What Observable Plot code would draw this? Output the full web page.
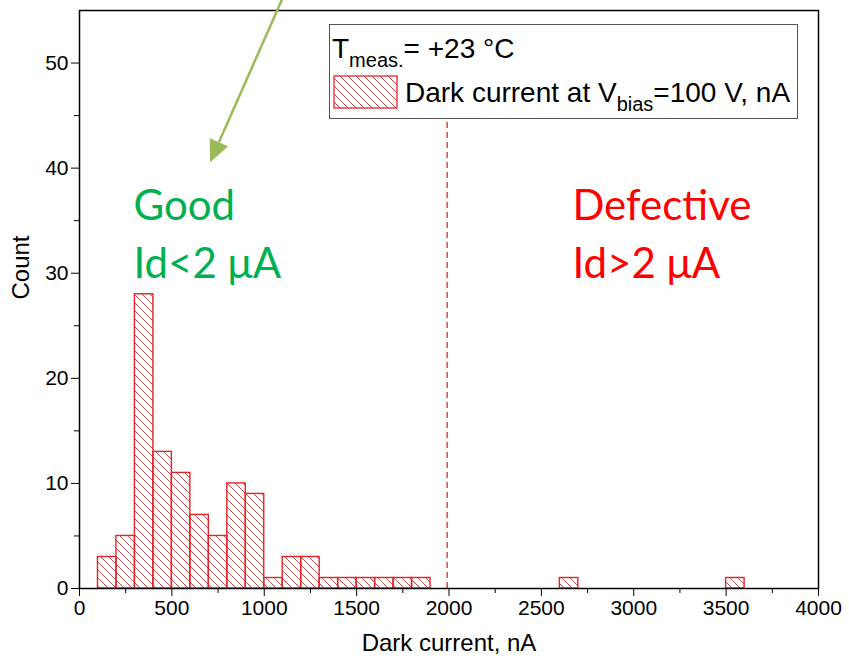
<!DOCTYPE html>
<html>
<head>
<meta charset="utf-8">
<script src="https://cdn.jsdelivr.net/npm/d3@7"></script>
<script src="https://cdn.jsdelivr.net/npm/@observablehq/plot@0.6"></script>
<style>
  html, body { margin: 0; padding: 0; background: #fff; }
  #chart { width: 849px; height: 667px; }
</style>
</head>
<body>
<div id="chart"></div>
<script>
// ---- data ----
const binStarts = [100, 200, 300, 400, 500, 600, 700, 800, 900, 1000, 1100, 1200, 1300, 1400, 1500, 1600, 1700, 1800, 2600, 3500];
const counts    = [3,   5,   28,  13,  11,  7,   5,   10,  9,   1,    3,    3,    1,    1,    1,    1,    1,    1,    1,    1];
const binWidth = 100;
const xTicks = [0, 500, 1000, 1500, 2000, 2500, 3000, 3500, 4000];
const xMinorTicks = [250, 750, 1250, 1750, 2250, 2750, 3250, 3750];
const yTicks = [0, 10, 20, 30, 40, 50];
const yMinorTicks = [5, 15, 25, 35, 45];
const threshold = 1990;
const annotations = [
  {label: "Good", x: 292, y: 36.3, color: "#00B050"},
  {label: "Id<2 μA", x: 292, y: 30.8, color: "#00B050"},
  {label: "Defective", x: 2668, y: 36.3, color: "#FF0000"},
  {label: "Id>2 μA", x: 2668, y: 30.8, color: "#FF0000"}
];
const arrowFrom = {x: 1104, y: 56.2};
const arrowTo = {x: 709, y: 40.5};

const bins = binStarts.map((s, i) => ({x1: s, x2: s + binWidth, count: counts[i]}));

const font = "'Liberation Sans', Arial, sans-serif";
const plot = Plot.plot({
  width: 849,
  height: 667,
  marginLeft: 79,
  marginRight: 31,
  marginTop: 10,
  marginBottom: 79,
  style: {fontFamily: font, fontSize: "21px", background: "#fff", color: "#000"},
  x: {domain: [0, 4000]},
  y: {domain: [0, 55]},
  marks: [
    Plot.rectY(bins, {x1: "x1", x2: "x2", y: "count", fill: "none", stroke: "#E3242B", strokeWidth: 1.4, className: "bars"}),
    Plot.ruleX([threshold], {y1: 0, y2: 45, stroke: "#D9453F", strokeWidth: 1.5, strokeDasharray: "6,4"}),
    Plot.text(annotations, {x: "x", y: "y", text: "label", fill: "color", textAnchor: "start", fontSize: 42, fontFamily: "Lato, 'Open Sans', sans-serif"}),
    Plot.axisX({ticks: xTicks, tickSize: 8, tickPadding: 4, fontSize: 21, label: null, tickFormat: d => String(d)}),
    Plot.axisX({ticks: xMinorTicks, tickSize: 5, text: null, label: null}),
    Plot.axisY({ticks: yTicks, tickSize: 8, tickPadding: 3, fontSize: 21, label: null}),
    Plot.axisY({ticks: yMinorTicks, tickSize: 5, text: null, label: null}),
    Plot.text(["Dark current, nA"], {frameAnchor: "bottom", dy: 62, fontSize: 24}),
    Plot.text(["Count"], {frameAnchor: "left", dx: -58, rotate: -90, fontSize: 24}),
    Plot.frame({stroke: "#000", strokeWidth: 1.5})
  ]
});

const svg = d3.select(plot);
svg.attr("overflow", "visible");
const defs = svg.insert("defs", ":first-child");
const pat = defs.append("pattern")
  .attr("id", "hatch").attr("patternUnits", "userSpaceOnUse")
  .attr("width", 8).attr("height", 8);
pat.append("path").attr("d", "M-2,-2 L10,10 M-2,6 L2,10 M6,-2 L10,2")
  .attr("stroke", "#C0403F").attr("stroke-width", 0.9).attr("fill", "none");
svg.selectAll(".bars rect").attr("fill", "url(#hatch)");

// arrow annotation
const sx = plot.scale("x"), sy = plot.scale("y");
const x0 = sx.apply(arrowFrom.x), y0 = sy.apply(arrowFrom.y);
const x1 = sx.apply(arrowTo.x), y1 = sy.apply(arrowTo.y);
const len = Math.hypot(x1 - x0, y1 - y0);
const ux = (x1 - x0) / len, uy = (y1 - y0) / len;
const headL = 22, headW = 10;
const bx = x1 - ux * headL, by = y1 - uy * headL;
svg.append("line").attr("x1", x0).attr("y1", y0).attr("x2", bx).attr("y2", by)
  .attr("stroke", "#9BBB59").attr("stroke-width", 2.5);
svg.append("path")
  .attr("d", `M${x1},${y1} L${bx - uy * headW},${by + ux * headW} L${bx + uy * headW},${by - ux * headW} Z`)
  .attr("fill", "#9BBB59");

// legend
const lg = svg.append("g").attr("font-family", font).attr("fill", "#000").attr("text-anchor", "start");
lg.append("rect").attr("x", 329.5).attr("y", 24.5).attr("width", 468).attr("height", 94)
  .attr("fill", "#fff").attr("stroke", "#555").attr("stroke-width", 1);
const t1 = lg.append("text").attr("x", 332).attr("y", 58).attr("font-size", 28);
t1.append("tspan").text("T");
t1.append("tspan").attr("font-size", 20).attr("dy", 9).text("meas.");
t1.append("tspan").attr("dy", -9).text("= +23 °C");
lg.append("rect").attr("x", 334).attr("y", 76).attr("width", 63).attr("height", 32)
  .attr("fill", "url(#hatch)").attr("stroke", "#E3242B").attr("stroke-width", 1.3);
const t2 = lg.append("text").attr("x", 405).attr("y", 102).attr("font-size", 28);
t2.append("tspan").text("Dark current at V");
t2.append("tspan").attr("font-size", 20).attr("dy", 9).text("bias");
t2.append("tspan").attr("dy", -9).text("=100 V, nA");

document.getElementById("chart").appendChild(plot);
</script>
</body>
</html>
